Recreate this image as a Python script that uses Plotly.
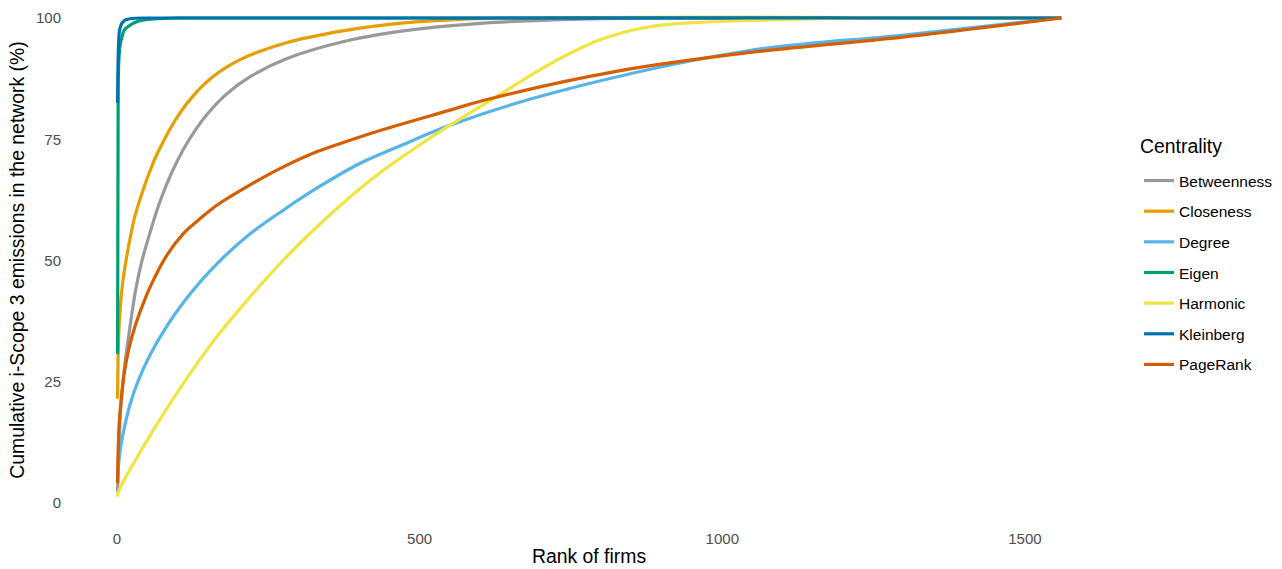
import plotly.graph_objects as go

# Cumulative share of i-Scope 3 emissions captured by the top-ranked firms
# under each centrality measure (rank of firms -> cumulative %).
betweenness_rank = [1, 2, 3, 5, 8, 12, 16, 22, 31, 41, 54, 70, 90, 110, 130, 150, 180, 220, 280, 380, 470, 600, 750, 900, 1560]
betweenness_pct = [2.3, 7, 11, 17, 22.5, 27.5, 31.5, 36.8, 44, 49.8, 55.5, 61.8, 68, 73, 77, 80.3, 84.2, 87.9, 91.6, 95.3, 97.3, 98.9, 99.7, 100, 100]

closeness_rank = [1, 2, 3, 5, 7, 10, 16, 22, 30, 45, 55, 66, 105, 150, 200, 280, 370, 450, 550, 650, 1560]
closeness_pct = [21.5, 31, 35, 39.5, 42.5, 46, 50.8, 54.8, 59.3, 65.2, 68.6, 71.9, 80.6, 87, 91.2, 94.9, 97.3, 98.7, 99.6, 100, 100]

degree_rank = [1, 3, 6, 13, 22, 35, 55, 79, 110, 165, 220, 275, 330, 401, 467, 550, 721, 1040, 1300, 1560]
degree_pct = [4.5, 8.5, 11.5, 16, 20.5, 25.2, 30.6, 35.8, 41.4, 49.3, 55.5, 60.4, 64.9, 70, 73.6, 77.9, 84.6, 93.2, 96.5, 100]

eigen_rank = [1, 2, 3, 5, 8, 12, 18, 25, 32, 45, 60, 100, 1560]
eigen_pct = [30.7, 86, 91, 94.2, 96, 97.5, 98.2, 98.8, 99.2, 99.6, 99.8, 100, 100]

harmonic_rank = [1, 2, 13, 35, 55, 110, 165, 220, 275, 330, 385, 440, 495, 550, 627, 715, 798, 880, 963, 1046, 1180, 1300, 1560]
harmonic_pct = [1.3, 2.2, 5, 9.8, 14, 24.7, 34.3, 42.5, 50.1, 56.9, 63.1, 68.6, 73.4, 77.9, 83.8, 90.5, 95.5, 98.2, 99.1, 99.5, 99.9, 100, 100]

kleinberg_rank = [1, 2, 3, 4, 6, 8, 11, 14, 20, 30, 50, 1560]
kleinberg_pct = [82.5, 92, 95.5, 97.3, 98.3, 98.9, 99.3, 99.6, 99.8, 99.95, 100, 100]

pagerank_rank = [1, 2, 4, 8, 13, 20, 30, 43, 55, 82, 110, 137, 165, 220, 275, 330, 385, 440, 550, 605, 825, 1046, 1294, 1560]
pagerank_pct = [4.1, 11, 17, 22.5, 27.5, 32, 36.5, 41, 44.6, 51, 55.6, 58.6, 61.4, 65.6, 69.3, 72.4, 74.8, 77, 81, 83, 89, 92.9, 96, 100]

x_ticks = [0, 500, 1000, 1500]
y_ticks = [0, 25, 50, 75, 100]

series = [
    ("Betweenness", betweenness_rank, betweenness_pct, "#999999"),
    ("Closeness", closeness_rank, closeness_pct, "#E69F00"),
    ("Degree", degree_rank, degree_pct, "#56B4E9"),
    ("Eigen", eigen_rank, eigen_pct, "#009E73"),
    ("Harmonic", harmonic_rank, harmonic_pct, "#F0E442"),
    ("Kleinberg", kleinberg_rank, kleinberg_pct, "#0072B2"),
    ("PageRank", pagerank_rank, pagerank_pct, "#D55E00"),
]

FONT = "Liberation Sans, Arial, sans-serif"

fig = go.Figure()
for name, xs, ys, color in series:
    fig.add_trace(go.Scatter(
        x=xs, y=ys, mode="lines", name=name, legendgroup=name,
        line=dict(color=color, width=3.2, shape="spline", smoothing=1.0),
    ))

# legend heading drawn as its own text block so the item spacing can be set freely
fig.add_annotation(
    text="Centrality", xref="paper", yref="paper",
    x=1.0290, y=0.7192, xanchor="left", yanchor="middle", showarrow=False,
    font=dict(size=19.4, color="black"),
)

fig.update_layout(
    width=1282, height=569,
    margin=dict(l=70, r=174, t=0, b=49),
    paper_bgcolor="white", plot_bgcolor="white",
    font=dict(family=FONT, color="black"),
    showlegend=True,
    legend=dict(
        font=dict(size=15.5, color="black"),
        x=1.0299, xanchor="left", y=0.6847, yanchor="top",
        tracegroupgap=7.5, bgcolor="rgba(0,0,0,0)",
    ),
)
fig.update_xaxes(
    range=[-77.6, 1637.2], tickvals=x_ticks, showgrid=False, zeroline=False,
    showline=False, ticks="", tickfont=dict(size=15, color="#4D4D4D"),
    ticklabelstandoff=8,
    title=dict(text="Rank of firms", font=dict(size=19.4, color="black"), standoff=3),
)
fig.update_yaxes(
    range=[-3.505, 103.71], tickvals=y_ticks, showgrid=False, zeroline=False,
    showline=False, ticks="", tickfont=dict(size=15, color="#4D4D4D"),
    ticklabelstandoff=8,
    title=dict(text="Cumulative i-Scope 3 emissions in the network (%)",
               font=dict(size=19.4, color="black"), standoff=6),
)

fig.write_html("out.html")
